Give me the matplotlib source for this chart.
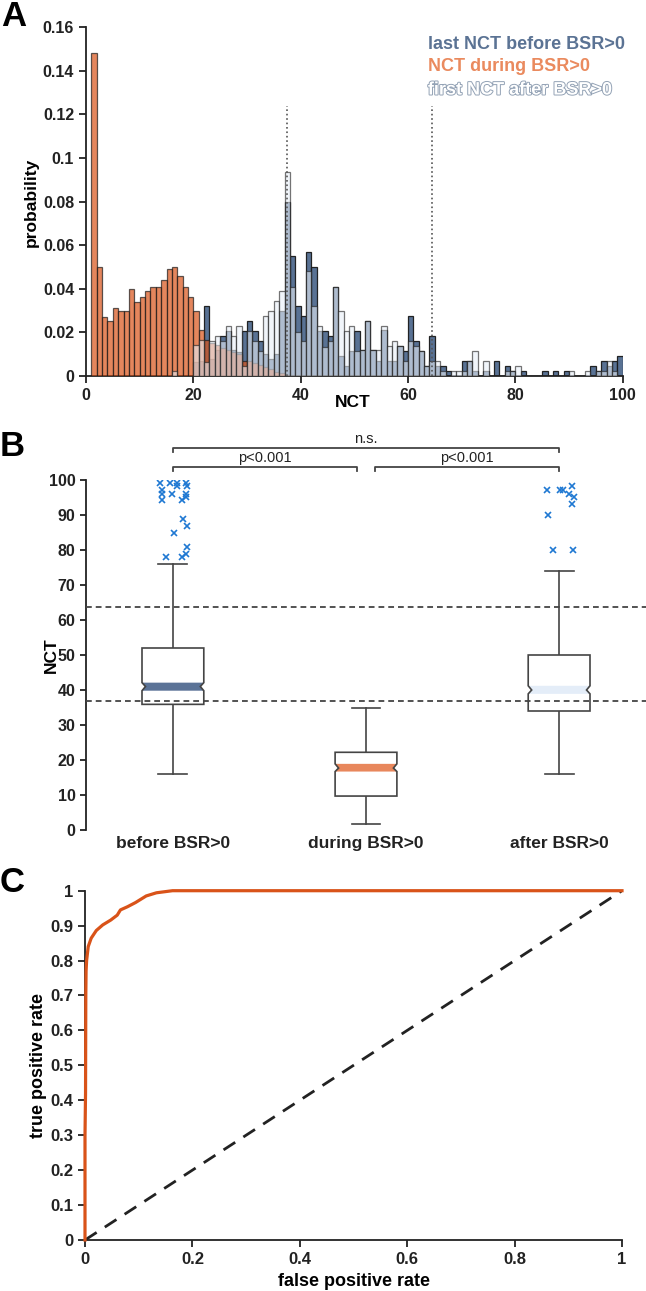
import matplotlib
matplotlib.use('Agg')
import matplotlib.pyplot as plt
import matplotlib.patheffects as pe
from matplotlib.patches import Polygon
from matplotlib.ticker import FuncFormatter

plt.rcParams['font.family'] = ['Liberation Sans', 'DejaVu Sans']
plt.rcParams['font.weight'] = 'bold'
plt.rcParams['axes.labelweight'] = 'bold'

# ---------------- panel A: NCT histograms (bin left edges 1..99, width 1)
bin_left = list(range(1, 100))
during = [0.148, 0.050, 0.027, 0.025, 0.031, 0.030, 0.030, 0.040, 0.034, 0.036,
          0.039, 0.041, 0.041, 0.044, 0.049, 0.050, 0.046, 0.041, 0.036, 0.030,
          0.021, 0.0165, 0.015, 0.014, 0.013, 0.012, 0.011, 0.010, 0.0068, 0.0068,
          0.006, 0.005, 0.004, 0.003, 0.002, 0.0012, 0.0005, 0, 0, 0,
          0, 0, 0, 0, 0, 0, 0, 0, 0, 0,
          0, 0, 0, 0, 0, 0, 0, 0, 0, 0,
          0, 0, 0, 0, 0, 0, 0, 0, 0, 0,
          0, 0, 0, 0, 0, 0, 0, 0, 0, 0,
          0, 0, 0, 0, 0, 0, 0, 0, 0, 0,
          0, 0, 0, 0, 0, 0, 0, 0, 0]
before = [0, 0, 0, 0, 0, 0, 0, 0, 0, 0,
          0, 0, 0, 0, 0, 0, 0, 0, 0, 0.0065,
          0.007, 0.032, 0.008, 0.012, 0.0183, 0.0207, 0.012, 0.0112, 0.0206, 0.0252,
          0.0206, 0.016, 0.010, 0.008, 0.010, 0.030, 0.080, 0.055, 0.0323, 0.0277,
          0.057, 0.050, 0.0206, 0.0206, 0.0184, 0.041, 0.009, 0.0045, 0.0116, 0.0208,
          0.0118, 0.025, 0.0118, 0.0071, 0.021, 0.0071, 0.0071, 0.0139, 0.0114, 0.0275,
          0.016, 0.0114, 0.0046, 0.0183, 0.0046, 0.0046, 0.0023, 0, 0, 0.0069,
          0.0069, 0.0023, 0, 0.0023, 0, 0.0069, 0, 0.0046, 0.0023, 0,
          0.0023, 0, 0, 0, 0.0023, 0, 0.0023, 0, 0.0023, 0,
          0, 0, 0, 0.0046, 0.0023, 0.0069, 0.0046, 0.0069, 0.0092]
after = [0, 0, 0, 0, 0, 0, 0, 0, 0, 0,
         0, 0, 0, 0, 0, 0.0024, 0, 0, 0, 0.014,
         0.0165, 0.0066, 0.016, 0.0183, 0.016, 0.0229, 0.0183, 0.0229, 0.0046, 0.0206,
         0.016, 0.0115, 0.0275, 0.030, 0.0344, 0.039, 0.0937, 0.041, 0.0203, 0.016,
         0.048, 0.032, 0.023, 0.0134, 0.016, 0.041, 0.030, 0.0208, 0.023, 0.0116,
         0.0118, 0.025, 0.0118, 0.0118, 0.023, 0.0139, 0.016, 0.0139, 0.007, 0.016,
         0.0138, 0.0114, 0.0046, 0.0069, 0.0069, 0.0023, 0, 0.0023, 0.0023, 0.0023,
         0.0069, 0.0115, 0, 0.0069, 0, 0, 0, 0.0023, 0.0023, 0.0046,
         0, 0, 0, 0, 0, 0, 0, 0, 0, 0.0023,
         0, 0, 0.0023, 0, 0.0023, 0.0023, 0.0069, 0.0023, 0]
thresholds_a = [37.4, 64.4]
legend_a = ['last NCT before BSR>0', 'NCT during BSR>0', 'first NCT after BSR>0']

# ---------------- panel B: notched box plots
groups = ['before BSR>0', 'during BSR>0', 'after BSR>0']
whisk_lo = [16.0, 1.6, 16.0]
q1 = [35.9, 9.7, 34.0]
notch_lo = [39.8, 16.7, 38.9]
median = [41.0, 17.7, 40.0]
notch_hi = [42.1, 18.9, 41.2]
q3 = [52.0, 22.2, 50.0]
whisk_hi = [76.0, 35.0, 74.0]
band_colors = ['#5B7397', '#E8875C', '#E4EDF8']
out_before = [99.1, 97.1, 96.1, 94.2, 99.1, 96.1, 99.1, 98.2, 94.2, 99.1,
              98.2, 96.1, 95.1, 89.0, 87.0, 85.0, 81.0, 79.0, 78.0, 78.0]
jit_before = [-0.068, -0.059, -0.059, -0.055, -0.013, -0.004, 0.019, 0.023, 0.047, 0.070,
              0.074, 0.066, 0.066, 0.051, 0.074, 0.006, 0.074, 0.066, 0.047, -0.036]
out_after = [97.1, 90.1, 80.1, 97.1, 97.1, 96.1, 98.2, 95.1, 93.1, 80.1]
jit_after = [-0.064, -0.059, -0.034, 0.006, 0.019, 0.051, 0.068, 0.079, 0.068, 0.074]
thresholds_b = [36.9, 63.7]
brackets = [(1, 3, 108.0, 109.2, 'n.s.'), (1, 1.953, 102.6, 103.7, 'p<0.001'),
            (2.047, 3, 102.6, 103.7, 'p<0.001')]

# ---------------- panel C: ROC curve
fpr = [0, 0, 0.001, 0.0015, 0.002, 0.003, 0.006, 0.0115, 0.021, 0.033, 0.048,
       0.060, 0.066, 0.079, 0.094, 0.114, 0.133, 0.163, 1.0]
tpr = [0, 0.30, 0.42, 0.70, 0.77, 0.80, 0.84, 0.864, 0.886, 0.902, 0.916,
       0.930, 0.945, 0.954, 0.966, 0.985, 0.994, 1.0, 1.0]

W, H = 646, 1291
fig = plt.figure(figsize=(W / 100, H / 100), dpi=100)


def style(ax, ticklen=5):
    for s in ['top', 'right']:
        ax.spines[s].set_visible(False)
    for s in ['left', 'bottom']:
        ax.spines[s].set_linewidth(1.3)
        ax.spines[s].set_color('#222222')
    ax.tick_params(direction='out', length=ticklen, width=1.3, colors='#222222')


fmt = FuncFormatter(lambda v, p: '%g' % round(v, 4))

# ---------------- A
axA = fig.add_axes([86 / W, 1 - 376 / H, 536.7 / W, 349 / H])
style(axA)
axA.bar(bin_left, before, width=1, align='edge', color='#506A8E', alpha=0.95,
        edgecolor='#1a1a1a', linewidth=0.9, zorder=2)
axA.bar(bin_left, during, width=1, align='edge', color='#D95319', alpha=0.7,
        edgecolor='#1a1a1a', linewidth=0.9, zorder=3)
axA.bar(bin_left, after, width=1, align='edge', color='#E8EFF8', alpha=0.6,
        edgecolor='#1a1a1a', linewidth=0.9, zorder=4)
for t in thresholds_a:
    axA.plot([t, t], [0, 0.124], ls=':', color='#555555', lw=1.2, zorder=5)
axA.set_xlim(0, 100)
axA.set_ylim(0, 0.16)
axA.set_xticks([0, 20, 40, 60, 80, 100])
axA.set_yticks([0, 0.02, 0.04, 0.06, 0.08, 0.1, 0.12, 0.14, 0.16])
axA.yaxis.set_major_formatter(fmt)
axA.tick_params(labelsize=11.5)
axA.set_ylabel('probability', fontsize=12.5, va='center')
axA.yaxis.set_label_coords(-0.101, 0.497)
axA.set_xlabel('NCT', fontsize=12.5, va='center')
axA.xaxis.set_label_coords(0.4975, -0.0745)
leg_y = [0.1518, 0.1417, 0.1311]
axA.text(63.7, leg_y[0], legend_a[0], color='#5B7394', fontsize=13, va='center')
axA.text(63.7, leg_y[1], legend_a[1], color='#EA8A5E', fontsize=13, va='center')
axA.text(63.7, leg_y[2], legend_a[2], color='white', fontsize=13, va='center',
         path_effects=[pe.withStroke(linewidth=1.4, foreground='#93A2B5')])

# ---------------- B
axB = fig.add_axes([86 / W, 1 - 830 / H, 560 / W, 350 / H])
style(axB, ticklen=4)
axB.spines['bottom'].set_visible(False)
axB.set_xlim(0.55, 3.45)
axB.set_ylim(0, 100)
axB.spines['left'].set_bounds(0, 100)
w, nd, cap = 0.16, 0.018, 0.075
for i in range(3):
    x = i + 1
    axB.plot([x, x], [q3[i], whisk_hi[i]], color='#444444', lw=1.2, zorder=2)
    axB.plot([x, x], [whisk_lo[i], q1[i]], color='#444444', lw=1.2, zorder=2)
    axB.plot([x - cap, x + cap], [whisk_hi[i], whisk_hi[i]], color='#444444', lw=1.2, zorder=2)
    axB.plot([x - cap, x + cap], [whisk_lo[i], whisk_lo[i]], color='#444444', lw=1.2, zorder=2)
    outline = [(x - w, q1[i]), (x - w, notch_lo[i]), (x - w + nd, median[i]),
               (x - w, notch_hi[i]), (x - w, q3[i]), (x + w, q3[i]),
               (x + w, notch_hi[i]), (x + w - nd, median[i]), (x + w, notch_lo[i]),
               (x + w, q1[i])]
    axB.add_patch(Polygon(outline, closed=True, fc='white', ec='none', zorder=2))
    band = [(x - w, notch_lo[i]), (x - w + nd, median[i]), (x - w, notch_hi[i]),
            (x + w, notch_hi[i]), (x + w - nd, median[i]), (x + w, notch_lo[i])]
    axB.add_patch(Polygon(band, closed=True, fc=band_colors[i], ec='none', zorder=3))
    axB.add_patch(Polygon(outline, closed=True, fill=False, ec='#444444', lw=1.2, zorder=4))
axB.plot([1 + j for j in jit_before], out_before, ls='none', marker='x', ms=5,
         mew=1.2, color='#1F78D2', zorder=5)
axB.plot([3 + j for j in jit_after], out_after, ls='none', marker='x', ms=5,
         mew=1.2, color='#1F78D2', zorder=5)
for t in thresholds_b:
    axB.plot([0.55, 3.45], [t, t], ls=(0, (3.2, 2.2)), color='#444444', lw=1.3,
             zorder=6, clip_on=False)
for x0, x1, ylo, yhi, lab in brackets:
    axB.plot([x0, x0, x1, x1], [ylo, yhi, yhi, ylo], color='#444444', lw=1.3,
             clip_on=False)
    axB.text((x0 + x1) / 2, yhi + 0.5, lab, ha='center', va='bottom', fontsize=10.5,
             fontweight='normal', color='#222222')
axB.set_xticks([1, 2, 3])
axB.set_xticklabels(groups, fontsize=12.5)
axB.tick_params(axis='x', length=0, pad=4)
axB.set_yticks(range(0, 101, 10))
axB.tick_params(axis='y', labelsize=11.5)
axB.set_ylabel('NCT', fontsize=12.5, va='center')
axB.yaxis.set_label_coords(-0.062, 0.5)

# ---------------- C
axC = fig.add_axes([85 / W, 1 - 1240 / H, 537 / W, 349.3 / H])
style(axC)
axC.plot([0, 1], [0, 1], color='#222222', lw=2.0, ls=(0, (5, 3.5)), zorder=2)
axC.plot(fpr, tpr, color='#D95319', lw=2.3, zorder=3, clip_on=False)
axC.set_xlim(0, 1)
axC.set_ylim(0, 1)
axC.set_xticks([0, 0.2, 0.4, 0.6, 0.8, 1])
axC.set_yticks([0, 0.1, 0.2, 0.3, 0.4, 0.5, 0.6, 0.7, 0.8, 0.9, 1])
axC.xaxis.set_major_formatter(fmt)
axC.yaxis.set_major_formatter(fmt)
axC.tick_params(labelsize=12)
axC.set_xlabel('false positive rate', fontsize=13, va='center')
axC.xaxis.set_label_coords(0.501, -0.119)
axC.set_ylabel('true positive rate', fontsize=13, va='center')
axC.yaxis.set_label_coords(-0.0857, 0.501)

# panel letters
for lab, (px, py) in zip('ABC', [(14, 17), (12, 447), (12, 882)]):
    fig.text(px / W, 1 - py / H, lab, fontsize=25, fontweight='bold',
             ha='center', va='center')

fig.savefig('out.png', dpi=100)
